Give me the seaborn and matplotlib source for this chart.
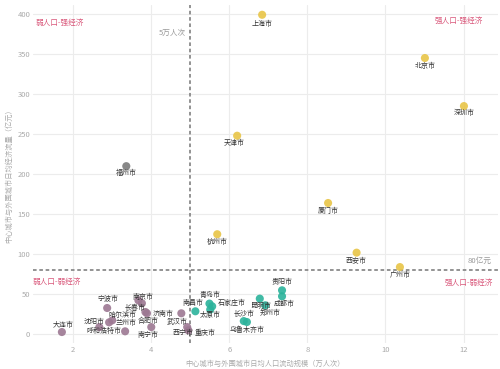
import matplotlib
matplotlib.use("Agg")
import matplotlib.pyplot as plt
import pandas as pd
import seaborn as sns

# data
cities = ['上海市', '北京市', '深圳市', '天津市', '厦门市', '杭州市', '西安市', '广州市',
          '福州市',
          '南昌市', '青岛市', '石家庄市', '太原市', '昆明市', '郑州市', '贵阳市', '成都市', '长沙市', '乌鲁木齐市',
          '大连市', '沈阳市', '宁波市', '哈尔滨市', '兰州市', '呼和浩特市', '南京市', '长春市', '济南市',
          '合肥市', '南宁市', '武汉市', '西宁市', '重庆市']
renkou = [6.84, 11.01, 12.01, 6.2, 8.53, 5.69, 9.26, 10.37,
          3.36,
          5.13, 5.49, 5.56, 5.51, 6.78, 6.92, 7.35, 7.35, 6.45, 6.37,
          1.71, 2.67, 2.87, 2.92, 3.0, 3.33, 3.67, 3.76, 3.85,
          3.89, 4.0, 4.77, 4.95, 4.92]
jingji = [399, 345, 285, 248, 164, 125, 102, 84,
          210,
          28.8, 38.4, 35, 31, 44.6, 36.3, 55, 47.5, 15.4, 16.6,
          2.9, 9.1, 32.9, 15, 17.5, 3.8, 42.5, 38.8, 27.9,
          26.3, 9.1, 26.3, 5, 9.1]
grupa = ['qq'] * 8 + ['fz'] + ['qr'] * 10 + ['rr'] * 14

# label offsets in pixels (dx, dy up)
off = [(0, -9), (0, -8), (0, -7), (-3, -7), (0, -8), (0, -8), (0, -8), (0, -8),
       (0, -7),
       (-2, 8), (1, 9), (20, 3), (0, -5), (1, -7), (5, -8), (0, 8), (2, -8), (-3, 8), (3, -9),
       (1, 7), (-5, 5), (1, 9), (13, 7), (14, -3), (-21, 0), (5, 3), (-7, -5), (18, -2),
       (1, -8), (-3, -8), (-4, -9), (-5, -3), (18, -6)]

kolory = {'qq': '#e8c547', 'fz': '#7b7b7b', 'qr': '#2bb39b', 'rr': '#9c7892'}

dane = pd.DataFrame({'miasto': cities, 'x': renkou, 'y': jingji, 'g': grupa})

sns.set_style("whitegrid", {'grid.color': '#ececec', 'axes.edgecolor': 'white'})
plt.rcParams['font.family'] = ['Noto Sans CJK SC', 'DejaVu Sans']

fig = plt.figure(figsize=(5, 3.69), dpi=100)
ax = fig.add_axes([0.066, 0.07, 0.929, 0.916])

sns.scatterplot(data=dane, x='x', y='y', hue='g', palette=kolory, s=34, alpha=0.9,
                edgecolor='none', legend=False, ax=ax, zorder=3)

for m, xx, yy, (dx, dy) in zip(cities, renkou, jingji, off):
    ax.annotate(m, (xx, yy), xytext=(dx, dy), textcoords='offset pixels',
                ha='center', va='center', fontsize=5, color='#333333', zorder=4)

ax.axvline(5, color='#8a8a8a', ls=(0, (2, 1.5)), lw=1.3, zorder=2)
ax.axhline(80, color='#8a8a8a', ls=(0, (2, 1.5)), lw=1.3, zorder=2)

ax.set_xlim(0.97, 12.87)
ax.set_ylim(-11, 411)
ax.set_xticks([2, 4, 6, 8, 10, 12])
ax.set_yticks([0, 50, 100, 150, 200, 250, 300, 350, 400])
ax.tick_params(labelsize=5.5, colors='#aaaaaa', length=0, pad=2)
for s in ax.spines.values():
    s.set_visible(False)

ax.set_xlabel('中心城市与外围城市日均人口流动规模（万人次）', fontsize=5.2, color='#aaaaaa', labelpad=4)
ax.set_ylabel('中心城市与外围城市日均经济流量（亿元）', fontsize=5.2, color='#aaaaaa', labelpad=3)

rozowy = '#d9577a'
fig.text(36 / 500, 1 - 23 / 369, '弱人口-强经济', fontsize=5.5, color=rozowy, va='center')
fig.text(483 / 500, 1 - 21 / 369, '强人口-强经济', fontsize=5.5, color=rozowy, va='center', ha='right')
fig.text(33 / 500, 1 - 282 / 369, '弱人口-弱经济', fontsize=5.5, color=rozowy, va='center')
fig.text(493 / 500, 1 - 283 / 369, '强人口-弱经济', fontsize=5.5, color=rozowy, va='center', ha='right')
fig.text(186 / 500, 1 - 33 / 369, '5万人次', fontsize=5.5, color='#999999', va='center', ha='right')
fig.text(491 / 500, 1 - 261 / 369, '80亿元', fontsize=5.5, color='#999999', va='center', ha='right')

fig.savefig('out.png', dpi=100)
